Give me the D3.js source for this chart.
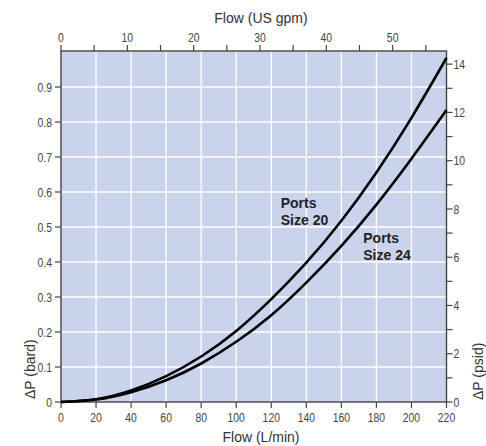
<!DOCTYPE html>
<html>
<head>
<meta charset="utf-8">
<script src="https://cdn.jsdelivr.net/npm/d3@7"></script>
<style>
  body { margin: 0; background: #fff; }
  svg { display: block; }
  .tick-label { font-family: "Liberation Sans", Arial, sans-serif; font-size: 13px; fill: #444; }
  .axis-title { font-family: "Liberation Sans", Arial, sans-serif; font-size: 14px; fill: #333; }
  .curve-label { font-family: "Liberation Sans", Arial, sans-serif; font-size: 14px; font-weight: bold; fill: #222; }
</style>
</head>
<body>
<svg id="chart"></svg>
<script>
// --- data ---
const flowLmin = [0, 20, 40, 60, 80, 100, 120, 140, 160, 180, 200, 220];
const dpSize20 = [0, 0.008, 0.033, 0.074, 0.130, 0.203, 0.294, 0.398, 0.518, 0.656, 0.812, 0.983];
const dpSize24 = [0, 0.007, 0.028, 0.062, 0.110, 0.172, 0.248, 0.341, 0.446, 0.564, 0.695, 0.834];

const bottomTicks = [0, 20, 40, 60, 80, 100, 120, 140, 160, 180, 200, 220];
const topTicks = [0, 10, 20, 30, 40, 50];
const topMinor = [5, 15, 25, 35, 45, 55];
const leftTicks = [0, 0.1, 0.2, 0.3, 0.4, 0.5, 0.6, 0.7, 0.8, 0.9];
const rightTicks = [0, 2, 4, 6, 8, 10, 12, 14];
const rightMinor = [1, 3, 5, 7, 9, 11, 13];

const seriesLabels = [
    { lines: ['Ports', 'Size 20'], x: 125.4, y: 0.554 },
    { lines: ['Ports', 'Size 24'], x: 172.5, y: 0.453 }
];

const W = 486, H = 446;
const L = 61, R = 446.5, T = 51, B = 402;
const LMIN_PER_GPM = 3.78541;
const BAR_TO_PSI = 14.5038;
const NARROW = 0.8; // tick labels use a condensed face in the original

const svg = d3.select('#chart').attr('width', W).attr('height', H);

const x = d3.scaleLinear().domain([0, 220]).range([L, R]);
const xTop = d3.scaleLinear().domain([0, 220 / LMIN_PER_GPM]).range([L, R]);
const y = d3.scaleLinear().domain([0, 1]).range([B, 52]);
const yRight = d3.scaleLinear().domain([0, BAR_TO_PSI]).range([B, 52]);

// plot background
svg.append('rect')
    .attr('x', L).attr('y', T)
    .attr('width', R - L).attr('height', B - T)
    .attr('fill', '#c9d3ec');

// grid
const grid = svg.append('g').attr('stroke', '#fff').attr('stroke-width', 1.3);
grid.selectAll('line.v')
    .data(bottomTicks.filter(d => d > 0 && d < 220))
    .join('line')
    .attr('x1', d => x(d)).attr('x2', d => x(d))
    .attr('y1', T).attr('y2', B);
grid.selectAll('line.h')
    .data(leftTicks.filter(d => d > 0))
    .join('line')
    .attr('x1', L).attr('x2', R)
    .attr('y1', d => y(d)).attr('y2', d => y(d));

// frame
svg.append('rect')
    .attr('x', L).attr('y', T)
    .attr('width', R - L).attr('height', B - T)
    .attr('fill', 'none')
    .attr('stroke', '#444')
    .attr('stroke-width', 1.4);

const tickColor = '#444';
const tickLen = 6;

function label(g, data, px, py, anchor, fmt, dy) {
    g.selectAll('text')
        .data(data)
        .join('text')
        .attr('class', 'tick-label')
        .attr('transform', d => `translate(${px(d)},${py(d)}) scale(${NARROW},1)`)
        .attr('dy', dy)
        .attr('text-anchor', anchor)
        .text(fmt);
}

// bottom axis
const gB = svg.append('g');
gB.selectAll('line')
    .data(bottomTicks)
    .join('line')
    .attr('x1', d => x(d)).attr('x2', d => x(d))
    .attr('y1', B).attr('y2', B + tickLen)
    .attr('stroke', tickColor).attr('stroke-width', 1.2);
label(gB, bottomTicks, d => x(d), () => B + 20, 'middle', d => d, 0);

// top axis
const gT = svg.append('g');
gT.selectAll('line')
    .data(topTicks.concat(topMinor))
    .join('line')
    .attr('x1', d => xTop(d)).attr('x2', d => xTop(d))
    .attr('y1', T).attr('y2', T - tickLen)
    .attr('stroke', tickColor).attr('stroke-width', 1.2);
label(gT, topTicks, d => xTop(d), () => T - 9, 'middle', d => d, 0);

// left axis
const gL = svg.append('g');
gL.selectAll('line')
    .data(leftTicks)
    .join('line')
    .attr('x1', L - tickLen).attr('x2', L)
    .attr('y1', d => y(d)).attr('y2', d => y(d))
    .attr('stroke', tickColor).attr('stroke-width', 1.2);
label(gL, leftTicks, () => L - 9, d => y(d), 'end', d => d === 0 ? '0' : d3.format('.1f')(d), '0.35em');

// right axis
const gR = svg.append('g');
gR.selectAll('line')
    .data(rightTicks.concat(rightMinor))
    .join('line')
    .attr('x1', R).attr('x2', R + tickLen)
    .attr('y1', d => yRight(d)).attr('y2', d => yRight(d))
    .attr('stroke', tickColor).attr('stroke-width', 1.2);
label(gR, rightTicks, () => R + 7, d => yRight(d), 'start', d => d, '0.35em');

// axis titles
svg.append('text').attr('class', 'axis-title')
    .attr('x', 261).attr('y', 23).attr('text-anchor', 'middle')
    .text('Flow (US gpm)');
svg.append('text').attr('class', 'axis-title')
    .attr('x', 261).attr('y', 442).attr('text-anchor', 'middle')
    .text('Flow (L/min)');
svg.append('text').attr('class', 'axis-title')
    .attr('transform', 'translate(35,399) rotate(-90)')
    .text('ΔP (bard)');
svg.append('text').attr('class', 'axis-title')
    .attr('transform', 'translate(483,400) rotate(-90)')
    .text('ΔP (psid)');

// curves
const line = d3.line()
    .x(d => x(d[0]))
    .y(d => y(d[1]))
    .curve(d3.curveNatural);

[dpSize20, dpSize24].forEach(vals => {
    svg.append('path')
        .datum(flowLmin.map((q, i) => [q, vals[i]]))
        .attr('d', line)
        .attr('fill', 'none')
        .attr('stroke', '#000')
        .attr('stroke-width', 2.6);
});

// curve labels
seriesLabels.forEach(s => {
    const t = svg.append('text').attr('class', 'curve-label')
        .attr('x', x(s.x)).attr('y', y(s.y));
    s.lines.forEach((ln, i) => {
        t.append('tspan').attr('x', x(s.x)).attr('dy', i === 0 ? 0 : 17).text(ln);
    });
});
</script>
</body>
</html>
